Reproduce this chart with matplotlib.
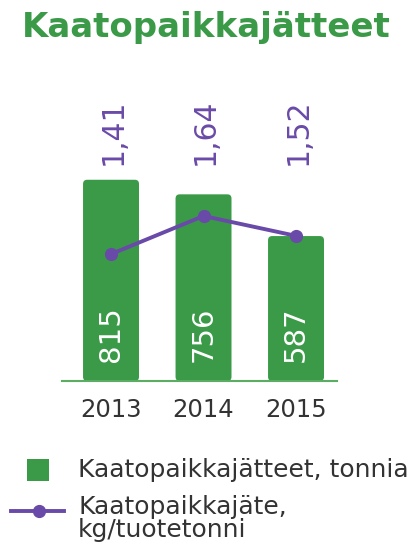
import numpy as np
import matplotlib
matplotlib.use("Agg")
import matplotlib.pyplot as plt
import matplotlib.transforms as mtransforms
from matplotlib.patches import FancyBboxPatch, Rectangle
from matplotlib.lines import Line2D

# data
years      = ["2013", "2014", "2015"]
tonnes     = [815, 756, 587]
kg_per_ton = [1.41, 1.64, 1.52]
kg_labels  = ["1,41", "1,64", "1,52"]

GREEN  = "#3a9a48"
PURPLE = "#6a4aa8"
GREY   = "#333333"

W, H = 419, 550
fig = plt.figure(figsize=(W / 100, H / 100), dpi=100)
plt.rcParams["font.family"] = "DejaVu Sans"

# pixel helper (from top-left)
def fx(px): return px / W
def fy(py): return 1 - py / H

ax = fig.add_axes([fx(62), fy(381), fx(275), 281 / H])
x = np.arange(len(years))
ax.set_xlim(-0.53, 2.443)
ax.set_ylim(0, 281 * 4.05)

bars = ax.bar(x, tonnes, width=0.605, color=GREEN)
# rounded corners
asp = (281 * 4.05 / 281) / (2.973 / 275)
for r in bars:
    fb = FancyBboxPatch((r.get_x(), r.get_y()), r.get_width(), r.get_height(),
                        boxstyle="round,pad=0,rounding_size=0.045",
                        mutation_aspect=asp, fc=GREEN, ec="none")
    ax.add_patch(fb)
    r.set_visible(False)

for s in ["top", "left", "right"]:
    ax.spines[s].set_visible(False)
ax.spines["bottom"].set_color("#5aad62")
ax.spines["bottom"].set_linewidth(1.5)
ax.set_yticks([])
ax.set_xticks([])

trans = mtransforms.blended_transform_factory(ax.transData, ax.transAxes)
for xi, t, yr, lab in zip(x, tonnes, years, kg_labels):
    ax.text(xi, 0.168, str(t), transform=trans, rotation=90, ha="center",
            va="center", color="white", fontsize=21)
    ax.text(xi + 0.02, 0.886, lab, transform=trans, rotation=90, ha="center",
            va="center", color=PURPLE, fontsize=21.5)
    ax.text(xi, -0.102, yr, transform=trans, ha="center", va="center",
            color=GREY, fontsize=17.5)

ax2 = ax.twinx()
ax2.set_ylim(0.644, 2.340)
ax2.plot(x, kg_per_ton, color=PURPLE, lw=2.8, marker="o", ms=8.5, zorder=5)
ax2.axis("off")

# title
fig.text(fx(206), fy(28), "Kaatopaikkajätteet", ha="center", va="center",
         color=GREEN, fontsize=24.5, fontweight="bold")

# legend
fig.add_artist(Rectangle((fx(27), fy(481)), fx(22), 22 / H, fc=GREEN,
                         ec="none", transform=fig.transFigure))
fig.text(fx(78), fy(470), "Kaatopaikkajätteet, tonnia", ha="left",
         va="center", color=GREY, fontsize=18)
fig.add_artist(Line2D([fx(11), fx(64)], [fy(511), fy(511)], color=PURPLE,
                      lw=2.8, transform=fig.transFigure))
fig.add_artist(Line2D([fx(39)], [fy(511)], color=PURPLE, marker="o", ms=8.5,
                      transform=fig.transFigure))
fig.text(fx(78), fy(507), "Kaatopaikkajäte,", ha="left", va="center",
         color=GREY, fontsize=18)
fig.text(fx(78), fy(530), "kg/tuotetonni", ha="left", va="center",
         color=GREY, fontsize=18)

fig.savefig("out.png", dpi=100)
